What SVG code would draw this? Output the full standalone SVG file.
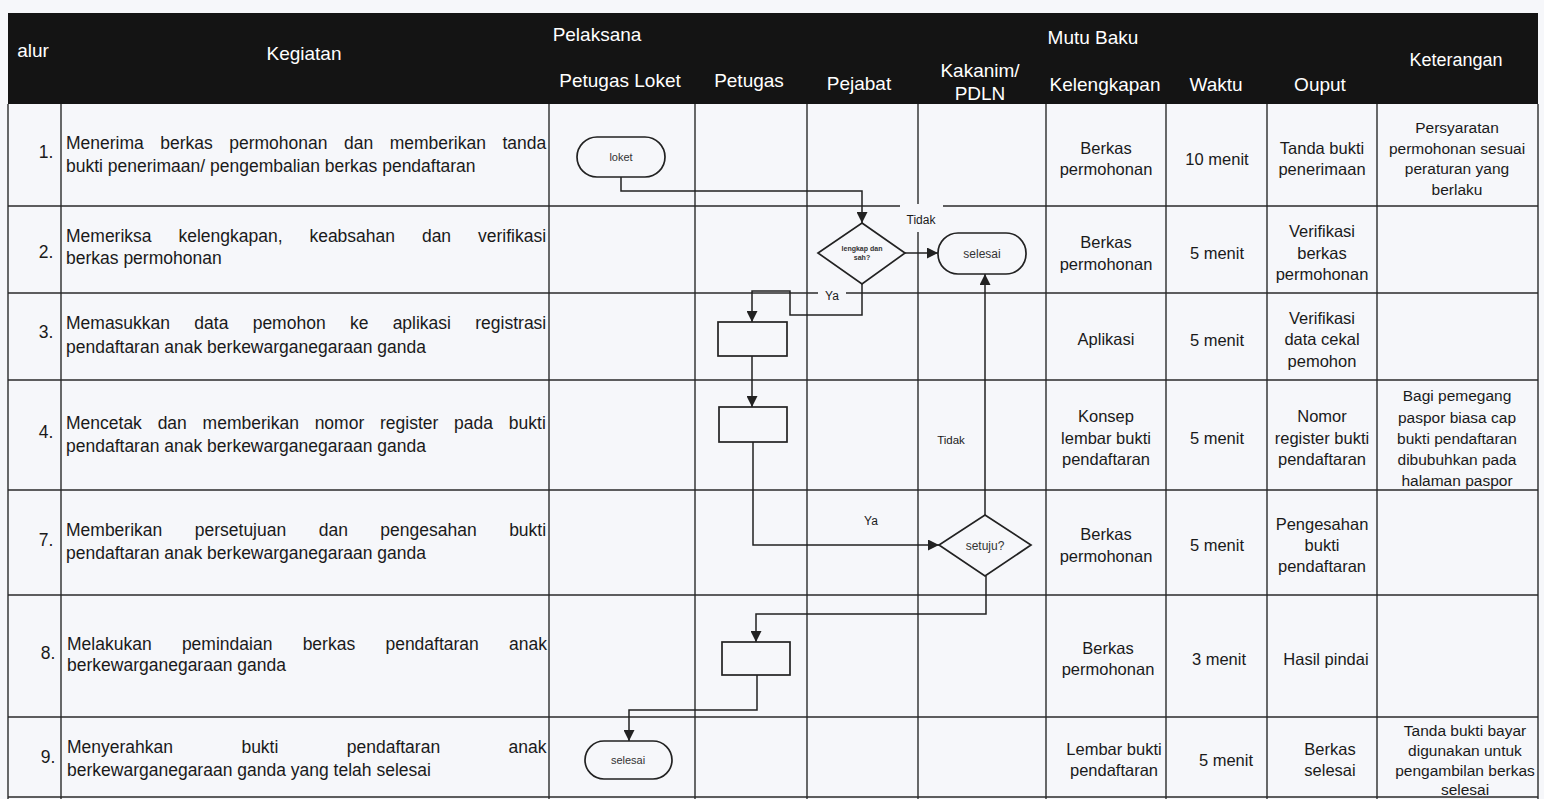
<svg xmlns="http://www.w3.org/2000/svg" width="1544" height="799" viewBox="0 0 1544 799">
<style>
text{font-family:"Liberation Sans",Arial,Helvetica,sans-serif;fill:#1a1a1a}
.hdr{font-size:19px;fill:#fff;text-anchor:middle}
.keg{font-size:17.5px}
.num{font-size:17.5px;text-anchor:middle}
.cell{font-size:16.5px;text-anchor:middle}
.ket{font-size:15.5px;text-anchor:middle}
.grid line{stroke:#2a2a2a;stroke-width:1.4}
.shape{fill:#f6f7fa;stroke:#222;stroke-width:1.7}
.conn path{fill:none;stroke:#222;stroke-width:1.5;marker-end:url(#arr)}
.lbl{font-size:12px;text-anchor:middle}
.nt{font-size:12px;text-anchor:middle;fill:#333}
.gap{fill:#f6f7fa}
</style>
<defs>
<marker id="arr" markerWidth="11" markerHeight="11" refX="11" refY="5.5" orient="auto" markerUnits="userSpaceOnUse">
<path d="M0,0 L11,5.5 L0,11 z" fill="#222"/>
</marker>
</defs>
<rect x="0" y="0" width="1544" height="799" fill="#f6f7fa"/>
<g id="header">
<rect x="8" y="13" width="1530" height="91" fill="#141414"/>
<text class="hdr" x="33" y="57">alur</text>
<text class="hdr" x="304" y="60">Kegiatan</text>
<text class="hdr" x="597" y="41">Pelaksana</text>
<text class="hdr" x="620" y="87">Petugas Loket</text>
<text class="hdr" x="749" y="87">Petugas</text>
<text class="hdr" x="859" y="90">Pejabat</text>
<text class="hdr" x="980" y="77">Kakanim/</text>
<text class="hdr" x="980" y="100">PDLN</text>
<text class="hdr" x="1093" y="44">Mutu Baku</text>
<text class="hdr" x="1105" y="91">Kelengkapan</text>
<text class="hdr" x="1216" y="91">Waktu</text>
<text class="hdr" x="1320" y="91">Ouput</text>
<text class="hdr" x="1456" y="66" style="font-size:18px">Keterangan</text>
</g>
<g class="grid" id="grid">
<line x1="8" y1="104" x2="8" y2="799"/>
<line x1="61" y1="104" x2="61" y2="799"/>
<line x1="549" y1="104" x2="549" y2="799"/>
<line x1="695" y1="104" x2="695" y2="799"/>
<line x1="807" y1="104" x2="807" y2="799"/>
<line x1="918" y1="104" x2="918" y2="799"/>
<line x1="1046" y1="104" x2="1046" y2="799"/>
<line x1="1166" y1="104" x2="1166" y2="799"/>
<line x1="1267" y1="104" x2="1267" y2="799"/>
<line x1="1377" y1="104" x2="1377" y2="799"/>
<line x1="1538" y1="104" x2="1538" y2="799"/>
<line x1="8" y1="206" x2="1538" y2="206"/>
<line x1="8" y1="293" x2="1538" y2="293"/>
<line x1="8" y1="380" x2="1538" y2="380"/>
<line x1="8" y1="490" x2="1538" y2="490"/>
<line x1="8" y1="595" x2="1538" y2="595"/>
<line x1="8" y1="717" x2="1538" y2="717"/>
<line x1="8" y1="797" x2="1538" y2="797"/>
</g>
<g id="rows">
<text class="num" x="46" y="158">1.</text>
<text class="keg" x="66" y="149" style="word-spacing:11.6px">Menerima berkas permohonan dan memberikan tanda</text>
<text class="keg" x="66" y="172">bukti penerimaan/ pengembalian berkas pendaftaran</text>
<text class="num" x="46" y="258">2.</text>
<text class="keg" x="66" y="242" style="word-spacing:22px">Memeriksa kelengkapan, keabsahan dan verifikasi</text>
<text class="keg" x="66" y="264">berkas permohonan</text>
<text class="num" x="46" y="338">3.</text>
<text class="keg" x="66" y="329" style="word-spacing:19.4px">Memasukkan data pemohon ke aplikasi registrasi</text>
<text class="keg" x="66" y="353">pendaftaran anak berkewarganegaraan ganda</text>
<text class="num" x="46" y="438">4.</text>
<text class="keg" x="66" y="429" style="word-spacing:10.9px">Mencetak dan memberikan nomor register pada bukti</text>
<text class="keg" x="66" y="452">pendaftaran anak berkewarganegaraan ganda</text>
<text class="num" x="46" y="546">7.</text>
<text class="keg" x="66" y="536" style="word-spacing:27.6px">Memberikan persetujuan dan pengesahan bukti</text>
<text class="keg" x="66" y="559">pendaftaran anak berkewarganegaraan ganda</text>
<text class="num" x="48" y="659">8.</text>
<text class="keg" x="67" y="650" style="word-spacing:25.4px">Melakukan pemindaian berkas pendaftaran anak</text>
<text class="keg" x="67" y="671">berkewarganegaraan ganda</text>
<text class="num" x="48" y="763">9.</text>
<text class="keg" x="67" y="753" style="word-spacing:63.5px">Menyerahkan bukti pendaftaran anak</text>
<text class="keg" x="67" y="776">berkewarganegaraan ganda yang telah selesai</text>

<text class="cell" x="1106" y="154">Berkas</text>
<text class="cell" x="1106" y="175">permohonan</text>
<text class="cell" x="1217" y="165">10 menit</text>
<text class="cell" x="1322" y="154">Tanda bukti</text>
<text class="cell" x="1322" y="175">penerimaan</text>
<text class="ket" x="1457" y="133">Persyaratan</text>
<text class="ket" x="1457" y="154">permohonan sesuai</text>
<text class="ket" x="1457" y="174">peraturan yang</text>
<text class="ket" x="1457" y="195">berlaku</text>

<text class="cell" x="1106" y="248">Berkas</text>
<text class="cell" x="1106" y="270">permohonan</text>
<text class="cell" x="1217" y="259">5 menit</text>
<text class="cell" x="1322" y="237">Verifikasi</text>
<text class="cell" x="1322" y="259">berkas</text>
<text class="cell" x="1322" y="280">permohonan</text>

<text class="cell" x="1106" y="345">Aplikasi</text>
<text class="cell" x="1217" y="346">5 menit</text>
<text class="cell" x="1322" y="324">Verifikasi</text>
<text class="cell" x="1322" y="345">data cekal</text>
<text class="cell" x="1322" y="367">pemohon</text>

<text class="cell" x="1106" y="422">Konsep</text>
<text class="cell" x="1106" y="444">lembar bukti</text>
<text class="cell" x="1106" y="465">pendaftaran</text>
<text class="cell" x="1217" y="444">5 menit</text>
<text class="cell" x="1322" y="422">Nomor</text>
<text class="cell" x="1322" y="444">register bukti</text>
<text class="cell" x="1322" y="465">pendaftaran</text>
<text class="ket" x="1457" y="401">Bagi pemegang</text>
<text class="ket" x="1457" y="423">paspor biasa cap</text>
<text class="ket" x="1457" y="444">bukti pendaftaran</text>
<text class="ket" x="1457" y="465">dibubuhkan pada</text>
<text class="ket" x="1457" y="486">halaman paspor</text>

<text class="cell" x="1106" y="540">Berkas</text>
<text class="cell" x="1106" y="562">permohonan</text>
<text class="cell" x="1217" y="551">5 menit</text>
<text class="cell" x="1322" y="530">Pengesahan</text>
<text class="cell" x="1322" y="551">bukti</text>
<text class="cell" x="1322" y="572">pendaftaran</text>

<text class="cell" x="1108" y="654">Berkas</text>
<text class="cell" x="1108" y="675">permohonan</text>
<text class="cell" x="1219" y="665">3 menit</text>
<text class="cell" x="1326" y="665">Hasil pindai</text>

<text class="cell" x="1114" y="755">Lembar bukti</text>
<text class="cell" x="1114" y="776">pendaftaran</text>
<text class="cell" x="1226" y="766">5 menit</text>
<text class="cell" x="1330" y="755">Berkas</text>
<text class="cell" x="1330" y="776">selesai</text>
<text class="ket" x="1465" y="736">Tanda bukti bayar</text>
<text class="ket" x="1465" y="756">digunakan untuk</text>
<text class="ket" x="1465" y="776">pengambilan berkas</text>
<text class="ket" x="1465" y="795">selesai</text>
</g>
<g id="label-gaps">
<rect class="gap" x="900" y="204" width="43" height="28"/>
<rect class="gap" x="818" y="289" width="28" height="9"/>
</g>
<g class="conn" id="connectors">
<path d="M621,177 V191 H862 V223"/>
<path d="M905,253 H938"/>
<path d="M862,284 V315 H790 V291 H752 V322"/>
<path d="M752,356 V407"/>
<path d="M753,442 V545 H939"/>
<path d="M985,515 V274"/>
<path d="M986,576 V614 H756 V642"/>
<path d="M757,675 V710 H629 V741"/>
</g>
<g id="edge-labels">
<text class="lbl" x="921" y="224">Tidak</text>
<text class="lbl" x="832" y="300">Ya</text>
<text class="lbl" x="871" y="525">Ya</text>
<text class="lbl" x="951" y="444" style="font-size:11.5px">Tidak</text>
</g>
<g id="n-loket">
<rect class="shape" x="577" y="137" width="88" height="40" rx="20"/>
<text class="nt" x="621" y="161" style="font-size:11px">loket</text>
</g>
<g id="n-cek">
<path class="shape" d="M862,223 L905,253 L862,284 L818,253 Z"/>
<text class="nt" x="862" y="251" style="font-size:7px;font-weight:bold">lengkap dan</text>
<text class="nt" x="862" y="260" style="font-size:7px;font-weight:bold">sah?</text>
</g>
<g id="n-selesai1">
<rect class="shape" x="938" y="233" width="88" height="41" rx="20"/>
<text class="nt" x="982" y="258">selesai</text>
</g>
<g id="n-box3">
<rect class="shape" x="718" y="322" width="69" height="34"/>
</g>
<g id="n-box4">
<rect class="shape" x="719" y="407" width="68" height="35"/>
</g>
<g id="n-setuju">
<path class="shape" d="M985,515 L1031,545 L985,576 L939,545 Z"/>
<text class="nt" x="985" y="550">setuju?</text>
</g>
<g id="n-box8">
<rect class="shape" x="722" y="642" width="68" height="33"/>
</g>
<g id="n-selesai2">
<rect class="shape" x="585" y="741" width="87" height="38" rx="19"/>
<text class="nt" x="628" y="764" style="font-size:11px">selesai</text>
</g>
</svg>
